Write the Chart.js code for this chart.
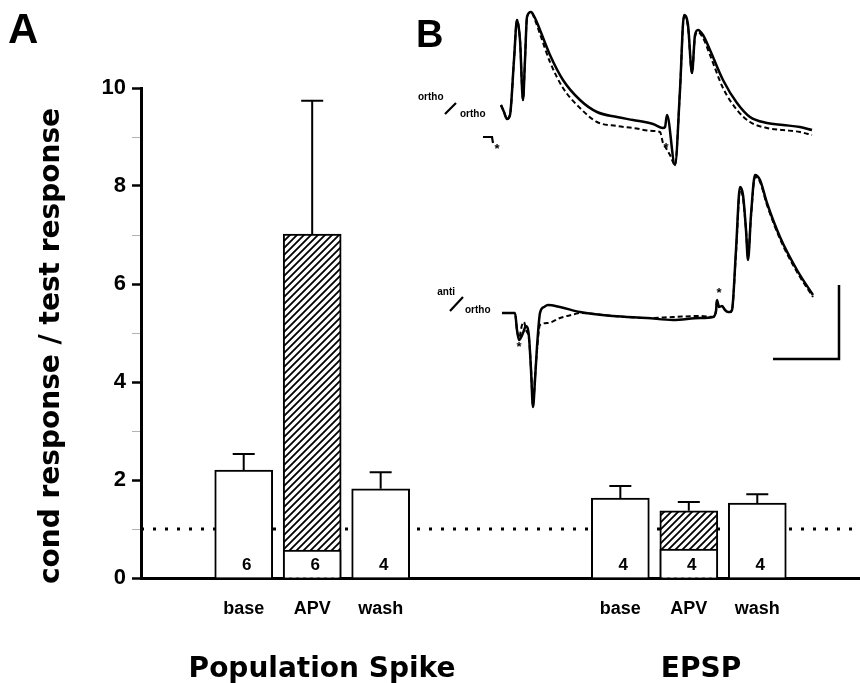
<!DOCTYPE html>
<html>
<head>
<meta charset="utf-8">
<script src="https://cdn.jsdelivr.net/npm/chart.js@4.4.0/dist/chart.umd.min.js"></script>
<style>
html, body { margin: 0; padding: 0; background: #fff; }
#wrap { position: relative; width: 860px; height: 683px; }
#mainChart { position: absolute; left: 0; top: 0; }
#traceChart { position: absolute; left: 400px; top: 0; pointer-events: none; }
</style>
</head>
<body>
<div id="wrap">
  <canvas id="mainChart" width="860" height="683"></canvas>
  <canvas id="traceChart" width="460" height="420"></canvas>
</div>
<script>
// A: bar positions (slots), labels and values
const catX = [0, 1, 2, 5.5, 6.5, 7.5];
const catLabels = ['base', 'APV', 'wash', 'base', 'APV', 'wash'];
const meanRatio = [2.20, 7.02, 1.82, 1.63, 1.37, 1.53];
const semRatio = [0.33, 2.72, 0.34, 0.25, 0.18, 0.18];
const nSlices = [6, 6, 4, 4, 4, 4];
const apvIdx = [1, 4];
const apvResidual = [0.57, 0.59];
const yTicks = [0, 2, 4, 6, 8, 10];
const refLevel = 1;

// B: sample traces (time in ms, amplitude in mV, arbitrary baseline)
const orthoCtrlT = [2.1,2.4,2.7,3.0,3.4,3.7,4.0,4.3,4.5,4.7,5.1,5.5,6.0,7.0,8.3,10.0,11.7,13.7,15.3,17.3,18.3,18.5,18.7,19.5,20.0,20.4,20.8,21.2,21.5,21.8,22.3,23.0,24.3,25.7,27.0,28.7,30.3,32.0,33.2];
const orthoCtrlV = [1.5,0.8,0.1,0.5,6.0,10.0,8.0,2.0,6.0,10.3,10.8,10.2,9.0,6.5,4.0,2.0,0.8,0.3,0.0,-0.4,-0.8,-0.7,0.5,-4.5,3.0,10.5,9.5,4.7,8.5,9.0,8.5,7.0,4.0,1.7,0.3,-0.3,-0.5,-0.7,-1.0];
const orthoApvT = [2.1,2.4,2.7,3.0,3.4,3.7,4.0,4.3,4.5,4.7,5.1,5.5,6.0,7.0,8.3,10.0,11.7,13.7,15.3,17.3,18.0,18.3,18.6,19.0,19.5,20.0,20.4,20.8,21.2,21.5,21.8,22.3,23.0,24.3,25.7,27.0,28.7,30.3,32.0,33.2];
const orthoApvV = [1.5,0.8,0.1,0.5,6.0,10.0,8.0,2.0,6.0,10.3,10.8,10.0,8.6,5.8,3.2,1.2,-0.2,-0.6,-0.8,-1.1,-1.2,-2.3,-2.8,-3.5,-4.5,3.0,10.3,9.3,4.7,8.3,8.8,8.2,6.5,3.2,1.0,-0.2,-0.8,-1.0,-1.2,-1.5];
const antiCtrlT = [2.2,3.5,3.7,3.9,4.3,4.6,4.9,5.1,5.3,5.5,5.7,6.0,6.4,6.8,8.0,10.0,13.3,16.7,19.3,22.0,23.3,23.6,23.7,23.9,24.2,24.5,24.8,25.0,25.2,25.6,26.0,26.3,26.6,26.8,27.1,27.5,28.0,28.7,30.0,31.7,33.3];
const antiCtrlV = [0,0,-1.7,-2.7,-2.0,-1.3,-2.4,-5.7,-9.4,-6.7,-3.4,0,0.6,0.8,0.6,0.1,-0.3,-0.5,-0.7,-0.5,-0.4,0.2,1.3,0.6,0.7,0.3,0.1,0.1,0.3,6.3,12.6,11.8,8.3,5.3,9.8,13.8,13.3,11.0,7.6,4.3,1.8];
const antiApvT = [2.2,3.5,3.7,3.9,4.2,4.4,4.6,4.9,5.1,5.3,5.5,5.7,6.0,6.8,8.0,9.5,10.0,13.3,16.7,19.3,22.0,23.3,23.6,23.7,23.9,24.2,24.5,24.8,25.0,25.2,25.6,26.0,26.3,26.6,26.8,27.1,27.5,28.0,28.7,30.0,31.7,33.3];
const antiApvV = [0,0,-1.7,-2.5,-1.2,-0.9,-1.7,-2.6,-5.5,-9.2,-6.5,-3.7,-1.2,-1.0,-0.5,-0.1,0,-0.3,-0.5,-0.4,-0.3,-0.4,0.2,1.3,0.6,0.7,0.3,0.1,0.1,0.3,6.0,12.3,11.5,8.3,5.6,9.6,13.6,13.1,10.8,7.4,4.1,1.6];
const scaleBarMs = 6.6;
const scaleBarMv = 7.4;

const FONT = '"Liberation Sans", Arial, sans-serif';
const WIDE = '"DejaVu Sans", sans-serif';

function makeHatch() {
    const p = 7;
    const c = document.createElement('canvas');
    c.width = p; c.height = p;
    const g = c.getContext('2d');
    g.fillStyle = '#fff';
    g.fillRect(0, 0, p, p);
    g.strokeStyle = '#000';
    g.lineWidth = 1.8;
    g.beginPath();
    g.moveTo(-1, p + 1); g.lineTo(p + 1, -1);
    g.moveTo(-1, 1); g.lineTo(1, -1);
    g.moveTo(p - 1, p + 1); g.lineTo(p + 1, p - 1);
    g.stroke();
    return g.createPattern(c, 'repeat');
}

const hatch = makeHatch();

const mainDecor = {
    id: 'mainDecor',
    afterDatasetsDraw(chart) {
        const { ctx, scales: { x, y } } = chart;
        ctx.save();
        ctx.strokeStyle = '#000';
        ctx.lineWidth = 2;
        catX.forEach((cx, i) => {
            const px = x.getPixelForValue(cx);
            const top = y.getPixelForValue(meanRatio[i]);
            const end = y.getPixelForValue(meanRatio[i] + semRatio[i]);
            ctx.beginPath();
            ctx.moveTo(px, top);
            ctx.lineTo(px, end);
            ctx.moveTo(px - 11, end);
            ctx.lineTo(px + 11, end);
            ctx.stroke();
        });
        ctx.fillStyle = '#000';
        ctx.font = 'bold 17px ' + FONT;
        ctx.textAlign = 'center';
        ctx.textBaseline = 'middle';
        catX.forEach((cx, i) => {
            ctx.fillText(String(nSlices[i]), x.getPixelForValue(cx) + 3, y.getPixelForValue(0) - 13);
        });
        ctx.restore();
    },
    afterDraw(chart) {
        const { ctx } = chart;
        ctx.save();
        ctx.fillStyle = '#000';
        // y axis title
        ctx.translate(52, 346);
        ctx.rotate(-Math.PI / 2);
        ctx.font = 'bold 28px ' + WIDE;
        ctx.textAlign = 'center';
        ctx.textBaseline = 'middle';
        ctx.fillText('cond response / test response', 0, 0);
        ctx.setTransform(1, 0, 0, 1, 0, 0);
        // group titles
        ctx.textBaseline = 'alphabetic';
        ctx.font = 'bold 28px ' + WIDE;
        ctx.fillText('Population Spike', 322, 677);
        ctx.fillText('EPSP', 701, 677);
        // panel letters
        ctx.textAlign = 'left';
        ctx.font = 'bold 42px ' + FONT;
        ctx.fillText('A', 8, 43);
        ctx.font = 'bold 38px ' + FONT;
        ctx.fillText('B', 416, 47);
        ctx.restore();
    }
};

new Chart(document.getElementById('mainChart'), {
    type: 'bar',
    data: {
        datasets: [
            {
                type: 'bar',
                label: 'mean',
                data: catX.map((x, i) => ({ x, y: meanRatio[i] })),
                backgroundColor: catLabels.map(l => l === 'APV' ? hatch : '#fff'),
                borderColor: '#000',
                borderWidth: 2,
                barThickness: 58,
                grouped: false,
                order: 2
            },
            {
                type: 'bar',
                label: 'APV residual',
                data: apvIdx.map((k, j) => ({ x: catX[k], y: apvResidual[j] })),
                backgroundColor: '#fff',
                borderColor: '#000',
                borderWidth: 2,
                barThickness: 58,
                grouped: false,
                order: 1
            },
            {
                type: 'line',
                label: 'unity',
                data: [{ x: -1.5, y: refLevel }, { x: 9, y: refLevel }],
                borderColor: '#000',
                borderWidth: 3,
                borderDash: [3, 9],
                pointRadius: 0,
                order: 3
            }
        ]
    },
    options: {
        responsive: false,
        animation: false,
        events: [],
        layout: { padding: { top: 88, left: 0, right: 0, bottom: 0 } },
        plugins: { legend: { display: false }, tooltip: { enabled: false } },
        scales: {
            x: {
                type: 'linear',
                min: -1.5,
                max: 9,
                offset: false,
                grid: { display: false, drawTicks: false },
                border: { display: true, color: '#000', width: 3 },
                afterBuildTicks: s => { s.ticks = catX.map(v => ({ value: v })); },
                ticks: {
                    callback: (v, i) => catLabels[i],
                    font: { family: FONT, weight: 'bold', size: 18 },
                    color: '#000',
                    padding: 20,
                    maxRotation: 0,
                    autoSkip: false
                },
                afterFit: s => { s.height = 105; }
            },
            y: {
                min: 0,
                max: 10,
                ticks: {
                    stepSize: 1,
                    autoSkip: false,
                    callback: v => yTicks.includes(v) ? v : '',
                    font: { family: FONT, weight: 'bold', size: 22 },
                    color: '#000',
                    padding: 6
                },
                grid: {
                    drawOnChartArea: false,
                    drawTicks: true,
                    tickLength: 9,
                    tickColor: c => (c.tick && c.tick.value % 2 === 0) ? '#000' : 'rgba(0,0,0,0.3)',
                    tickWidth: c => (c.tick && c.tick.value % 2 === 0) ? 2.5 : 1
                },
                border: { color: '#000', width: 3 },
                afterFit: s => { s.width = 141; }
            }
        }
    },
    plugins: [mainDecor]
});

// B: inset traces
const traceOffset = { ortho: -12, anti: -31.3 };
function traceData(t, v, off) {
    return t.map((tt, i) => ({ x: tt, y: v[i] + off }));
}
const barCorner = { t: 35.9, y: -35.9 };

const traceLabels = {
    id: 'traceLabels',
    afterDatasetsDraw(chart) {
        const { ctx, scales: { x, y } } = chart;
        const P = (t, v) => [x.getPixelForValue(t), y.getPixelForValue(v)];
        ctx.save();
        ctx.fillStyle = '#000';
        ctx.strokeStyle = '#000';
        ctx.textBaseline = 'middle';
        ctx.font = 'bold 10px ' + FONT;
        ctx.textAlign = 'left';
        ctx.fillText('ortho', ...P(-6.2, -9.7));
        ctx.fillText('ortho', ...P(-2.0, -11.4));
        ctx.textAlign = 'right';
        ctx.fillText('anti', ...P(-2.5, -29.2));
        ctx.textAlign = 'left';
        ctx.fillText('ortho', ...P(-1.5, -31.0));
        ctx.lineWidth = 2.2;
        ctx.beginPath();
        ctx.moveTo(...P(-3.5, -11.4)); ctx.lineTo(...P(-2.4, -10.3));
        ctx.moveTo(...P(-3.0, -31.1)); ctx.lineTo(...P(-1.7, -29.7));
        ctx.moveTo(...P(0.3, -13.7)); ctx.lineTo(...P(1.2, -13.7)); ctx.lineTo(...P(1.3, -14.3));
        ctx.stroke();
        ctx.font = 'bold 13px ' + FONT;
        ctx.textAlign = 'center';
        [[1.7, -14.9], [18.6, -14.8], [3.9, -34.7], [23.9, -29.3]].forEach(p => ctx.fillText('*', ...P(p[0], p[1])));
        ctx.restore();
    }
};

new Chart(document.getElementById('traceChart'), {
    type: 'line',
    data: {
        datasets: [
            { data: traceData(orthoCtrlT, orthoCtrlV, traceOffset.ortho), borderWidth: 2.5 },
            { data: traceData(orthoApvT, orthoApvV, traceOffset.ortho), borderWidth: 2, borderDash: [5, 3] },
            { data: traceData(antiCtrlT, antiCtrlV, traceOffset.anti), borderWidth: 2.5 },
            { data: traceData(antiApvT, antiApvV, traceOffset.anti), borderWidth: 2, borderDash: [5, 3] },
            {
                data: [
                    { x: barCorner.t - scaleBarMs, y: barCorner.y },
                    { x: barCorner.t, y: barCorner.y },
                    { x: barCorner.t, y: barCorner.y + scaleBarMv }
                ],
                borderWidth: 2.5,
                cubicInterpolationMode: 'default',
                tension: 0
            }
        ].map(d => Object.assign({ borderColor: '#000', pointRadius: 0, cubicInterpolationMode: 'monotone', fill: false }, d))
    },
    options: {
        responsive: false,
        animation: false,
        events: [],
        layout: { padding: 0 },
        plugins: { legend: { display: false }, tooltip: { enabled: false } },
        scales: {
            x: { type: 'linear', min: -8, max: 38, display: false },
            y: { type: 'linear', min: -42, max: 0, display: false }
        }
    },
    plugins: [traceLabels]
});
</script>
</body>
</html>
